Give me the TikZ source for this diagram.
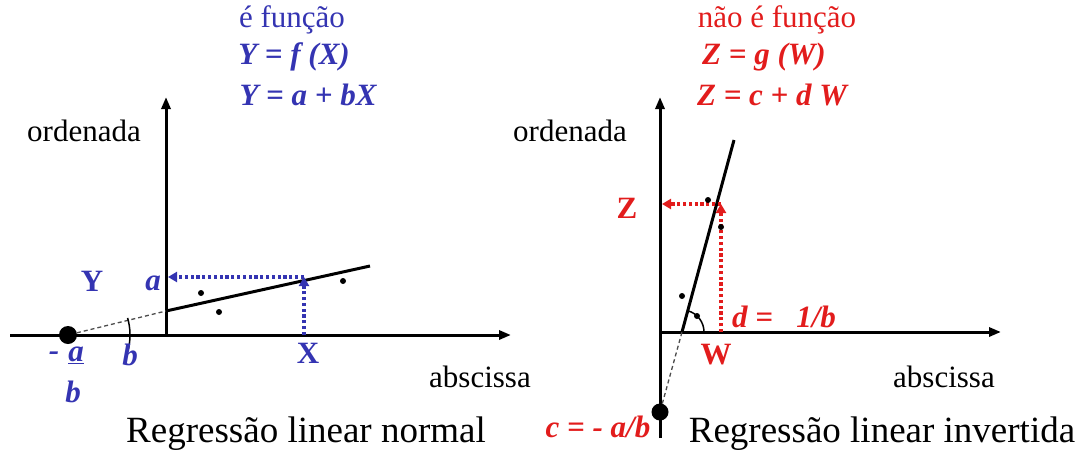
\documentclass[tikz,border=0pt]{standalone}
\usepackage{fontspec}
\setmainfont{Liberation Serif}
\usetikzlibrary{arrows.meta}
\definecolor{blueC}{RGB}{52,52,178}
\definecolor{redC}{RGB}{226,28,28}
\tikzset{
  axisline/.style={line width=3pt, -{Triangle[length=12pt,width=9pt]}},
  regline/.style={line width=3pt},
  extline/.style={line width=1.3pt, dash pattern=on 4pt off 3pt, black!70},
  thinarc/.style={line width=1.5pt},
  projline/.style={line width=3.6pt, dash pattern=on 3.2pt off 2.6pt, -{Triangle[length=9pt,width=10pt]}},
  bigdot/.style={circle, fill=black, minimum size=18pt, inner sep=0pt},
  smalldot/.style={circle, fill=black, minimum size=6pt, inner sep=0pt},
  plaintxt/.style={font=\fontsize{31}{34}\selectfont, inner sep=0pt},
  captxt/.style={font=\fontsize{37}{40}\selectfont, inner sep=0pt},
  eqtxt/.style={font=\fontsize{31}{34}\selectfont\bfseries\itshape, inner sep=0pt},
  vartxt/.style={font=\fontsize{31}{34}\selectfont\bfseries, inner sep=0pt},
}
\begin{document}
\begin{tikzpicture}[x=1pt,y=-1pt]
  \useasboundingbox (0,0) rectangle (1081,453);

  % regressao normal
  \coordinate (LO)  at (166,335);
  \coordinate (LXs) at (10,335);
  \coordinate (LXe) at (511,335);
  \coordinate (LYe) at (166,97);
  \coordinate (LA)  at (166,311);
  \coordinate (LE)  at (370,266);
  \coordinate (LP)  at (304,277);
  \coordinate (LPx) at (304,335);
  \coordinate (LPy) at (168,277);
  \node[bigdot] (LI) at (68,335) {};

  \draw[axisline] (LXs) -- (LXe);
  \draw[axisline] (LO) -- (LYe);
  \draw[extline] (LI) -- (LA);
  \draw[regline] (LA) -- (LE);
  \draw[projline, blueC] (LP) -- (LPy);
  \draw[projline, blueC] (LPx) -- (LP);
  \draw[thinarc] (LI.center) ++(-16:62) arc[start angle=-16, end angle=13, radius=62];

  \node[smalldot] (ld1) at (201,293) {};
  \node[smalldot] (ld2) at (219,312) {};
  \node[smalldot] (ld3) at (343,281) {};

  \node[vartxt, text=blueC] (LYl) at (92,281) {Y};
  \node[eqtxt, text=blueC] (Lal) at (153,283) {a};
  \node[eqtxt, text=blueC] (Lbl) at (130,355) {b};
  \node[eqtxt, text=blueC] (Lmin) at (54,356) {-};
  \node[eqtxt, text=blueC] (Lnum) at (76,355) {\underline{a}};
  \node[eqtxt, text=blueC] (Lden) at (73,392) {b};
  \node[vartxt, text=blueC] (LXl) at (308,353) {X};

  \node[plaintxt] (Lord) at (84,131) {ordenada};
  \node[plaintxt] (Labs) at (480,377) {abscissa};
  \node[captxt] (Lcap) at (306,434) {Regressão linear normal};

  \node[plaintxt, text=blueC] (Lt1) at (292,20) {é função};
  \node[eqtxt, text=blueC] (Lt2) at (294,57) {Y = f (X)};
  \node[eqtxt, text=blueC] (Lt3) at (308,95) {Y = a + bX};

  % regressao invertida
  \coordinate (RO)  at (660,332);
  \coordinate (RYs) at (660,438);
  \coordinate (RYe) at (660,97);
  \coordinate (RXe) at (1001,332);
  \coordinate (RA)  at (682,332);
  \coordinate (RE)  at (734,140);
  \coordinate (RP)  at (721,204);
  \coordinate (RPx) at (721,332);
  \coordinate (RPy) at (662,204);
  \node[bigdot, minimum size=17pt] (RI) at (660,412) {};

  \draw[axisline] (RYs) -- (RYe);
  \draw[axisline] (RO) -- (RXe);
  \draw[extline] (RI) -- (RA);
  \draw[regline] (RA) -- (RE);
  \draw[projline, redC] (RP) -- (RPy);
  \draw[projline, redC] (RPx) -- (RP);
  \draw[thinarc] (RA) ++(-75:22) arc[start angle=-75, end angle=0, radius=22];

  \node[smalldot] (rd1) at (708,200) {};
  \node[smalldot] (rd2) at (721,227) {};
  \node[smalldot] (rd3) at (682,296) {};
  \node[smalldot] (rd4) at (697,316) {};

  \node[vartxt, text=redC] (RZl) at (627,208) {Z};
  \node[eqtxt, text=redC] (Rdl) at (784,317) {d =\ \ \ 1/b};
  \node[vartxt, text=redC] (RWl) at (716,355) {W};
  \node[eqtxt, text=redC] (Rcl) at (598,427) {c = - a/b};

  \node[plaintxt] (Rord) at (570,131) {ordenada};
  \node[plaintxt] (Rabs) at (944,377) {abscissa};
  \node[captxt] (Rcap) at (882,434) {Regressão linear invertida};

  \node[plaintxt, text=redC] (Rt1) at (777,20) {não é função};
  \node[eqtxt, text=redC] (Rt2) at (764,57) {Z = g (W)};
  \node[eqtxt, text=redC] (Rt3) at (772,95) {Z = c + d W};
\end{tikzpicture}
\end{document}
